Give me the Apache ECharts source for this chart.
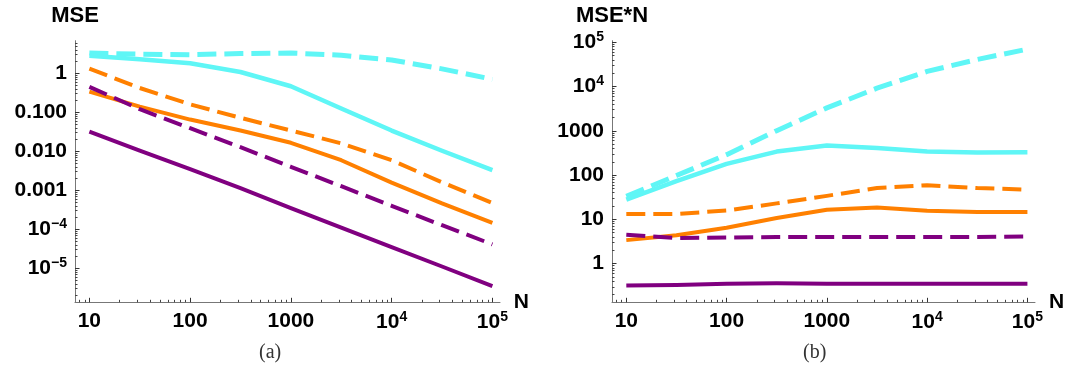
<!DOCTYPE html>
<html><head><meta charset="utf-8">
<script src="https://cdn.jsdelivr.net/npm/echarts@6/dist/echarts.min.js"></script>
<style>html,body{margin:0;padding:0;background:#fff}#c{width:1086px;height:374px}</style>
</head><body><div id="c"></div>
<script>
// ---------- data ----------
const N = [10, 31.6, 100, 316, 1000, 3162, 10000, 31623, 100000];
// panel (a): MSE
const mseCyanSolid    = [2.8, 2.3, 1.8, 1.08, 0.465, 0.125, 0.034, 0.0103, 0.0033];
const mseCyanDashed   = [3.3, 3.1, 3.0, 3.2, 3.3, 2.9, 2.2, 1.3, 0.7];
const mseOrangeSolid  = [0.34, 0.14, 0.065, 0.034, 0.0165, 0.0059, 0.00157, 0.00046, 0.000146];
const mseOrangeDashed = [1.32, 0.42, 0.16, 0.072, 0.034, 0.016, 0.0059, 0.0016, 0.00047];
const msePurpleSolid  = [0.032, 0.0104, 0.0035, 0.00114, 0.00035, 0.00011, 0.000035, 0.0000111, 0.0000035];
const msePurpleDashed = [0.45, 0.12, 0.039, 0.0127, 0.004, 0.00127, 0.0004, 0.000127, 0.000041];
// panel (b): MSE*N
const mseNCyanSolid    = [28, 73, 180, 340, 465, 410, 340, 325, 330];
const mseNCyanDashed   = [33, 98, 290, 1010, 3300, 9200, 22000, 41000, 70000];
const mseNOrangeSolid  = [3.4, 4.4, 6.5, 10.7, 16.5, 18.6, 15.7, 14.6, 14.6];
const mseNOrangeDashed = [13.2, 13.3, 15.8, 23, 34, 51, 59, 51, 47];
const mseNPurpleSolid  = [0.32, 0.33, 0.35, 0.36, 0.35, 0.35, 0.35, 0.35, 0.35];
const mseNPurpleDashed = [4.5, 3.8, 3.9, 4.0, 4.0, 4.0, 4.0, 4.0, 4.1];
// ticks
const xTickValues  = [10, 100, 1000, 10000, 100000];
const xTickLabels  = ['10', '100', '1000', '10^4', '10^5'];
const yTickValuesA = [1e-5, 1e-4, 1e-3, 1e-2, 0.1, 1];
const yTickLabelsA = ['10^\u22125', '10^\u22124', '0.001', '0.010', '0.100', '1'];
const yTickValuesB = [1, 10, 100, 1000, 10000, 100000];
const yTickLabelsB = ['1', '10', '100', '1000', '10^4', '10^5'];
const titleA = 'MSE', titleB = 'MSE*N', xName = 'N';
const captionA = '(a)', captionB = '(b)';

// ---------- styles ----------
const FONT = '"Liberation Sans", Arial, Helvetica, sans-serif';
const CYAN = '#5ff6f6', ORANGE = '#ff8000', PURPLE = '#800080';
const DASH = [19, 8];
const X_MIN = 7.2, X_MAX = 119000;
const YA_MIN = 1.34e-6, YA_MAX = 6.85;
const YB_MIN = 0.134, YB_MAX = 108700;

function minorTicks(min, max) {
  const out = [];
  for (let e = Math.floor(Math.log10(min)); e <= Math.ceil(Math.log10(max)); e++) {
    for (let m = 2; m <= 9; m++) {
      const v = m * Math.pow(10, e);
      if (v >= min && v <= max) out.push(v);
    }
  }
  return out;
}
function fmt(values, labels) {
  return function (v) {
    let idx = values.findIndex(t => Math.abs(Math.log10(t) - Math.log10(v)) < 1e-6);
    if (idx < 0) return '';
    const s = labels[idx];
    const p = s.indexOf('^');
    if (p < 0) return '{n|' + s + '}';
    return '{n|' + s.slice(0, p) + '}{s|' + s.slice(p + 1) + '}';
  };
}
const rich = {
  n: { fontSize: 21, fontWeight: 'bold', fontFamily: FONT, color: '#000' },
  s: { fontSize: 14, fontWeight: 'bold', fontFamily: FONT, color: '#000', padding: [0, 0, 10, 0] }
};
const axisLine = { show: true, lineStyle: { color: '#777', width: 1 } };

function majorAxis(gridIndex, min, max, values, labels, dim, name) {
  return {
    type: 'log', logBase: 10, gridIndex, min, max,
    position: dim === 'x' ? 'bottom' : 'left',
    axisLine,
    axisTick: { show: true, inside: true, length: 4.5, customValues: values, lineStyle: { color: '#333', width: 1 } },
    axisLabel: { show: true, customValues: values, formatter: fmt(values, labels), rich, margin: dim === 'x' ? 8 : 8 },
    minorTick: { show: false },
    splitLine: { show: false },
    name,
    nameLocation: 'end',
    nameGap: dim === 'x' ? 12 : 14,
    nameTextStyle: dim === 'x'
      ? { fontSize: 21, fontWeight: 'bold', fontFamily: FONT, color: '#000', align: 'left', verticalAlign: 'middle' }
      : { fontSize: 22, fontWeight: 'bold', fontFamily: FONT, color: '#000', align: 'center', verticalAlign: 'bottom' }
  };
}
function minorAxis(gridIndex, min, max, dim) {
  return {
    type: 'log', logBase: 10, gridIndex, min, max,
    position: dim === 'x' ? 'bottom' : 'left',
    axisLine: { show: false },
    axisTick: { show: true, inside: true, length: 2.5, customValues: minorTicks(min, max), lineStyle: { color: '#444', width: 1 } },
    axisLabel: { show: false },
    splitLine: { show: false }
  };
}
function line(name, xi, yi, ys, color, dashed, width) {
  return {
    name, type: 'line', xAxisIndex: xi, yAxisIndex: yi,
    data: N.map((n, i) => [n, ys[i]]),
    showSymbol: false, symbol: 'none', smooth: false,
    lineStyle: { color, width, type: dashed ? DASH : 'solid', cap: 'butt', join: 'round' },
    emphasis: { disabled: true }, silent: true, animation: false
  };
}

const option = {
  animation: false,
  backgroundColor: '#fff',
  grid: [
    { left: 75, top: 40.7, width: 425, height: 261.6 },
    { left: 612, top: 40.7, width: 423, height: 261.6 }
  ],
  xAxis: [
    majorAxis(0, X_MIN, X_MAX, xTickValues, xTickLabels, 'x', xName),
    majorAxis(1, X_MIN, X_MAX, xTickValues, xTickLabels, 'x', xName),
    minorAxis(0, X_MIN, X_MAX, 'x'),
    minorAxis(1, X_MIN, X_MAX, 'x')
  ],
  yAxis: [
    majorAxis(0, YA_MIN, YA_MAX, yTickValuesA, yTickLabelsA, 'y', titleA),
    majorAxis(1, YB_MIN, YB_MAX, yTickValuesB, yTickLabelsB, 'y', titleB),
    minorAxis(0, YA_MIN, YA_MAX, 'y'),
    minorAxis(1, YB_MIN, YB_MAX, 'y')
  ],
  series: [
    line('a-cyan-dashed', 0, 0, mseCyanDashed, CYAN, true, 5),
    line('a-cyan-solid', 0, 0, mseCyanSolid, CYAN, false, 4.5),
    line('a-orange-dashed', 0, 0, mseOrangeDashed, ORANGE, true, 4),
    line('a-orange-solid', 0, 0, mseOrangeSolid, ORANGE, false, 4),
    line('a-purple-dashed', 0, 0, msePurpleDashed, PURPLE, true, 4),
    line('a-purple-solid', 0, 0, msePurpleSolid, PURPLE, false, 4),
    line('b-cyan-dashed', 1, 1, mseNCyanDashed, CYAN, true, 5),
    line('b-cyan-solid', 1, 1, mseNCyanSolid, CYAN, false, 4.5),
    line('b-orange-dashed', 1, 1, mseNOrangeDashed, ORANGE, true, 4),
    line('b-orange-solid', 1, 1, mseNOrangeSolid, ORANGE, false, 4),
    line('b-purple-dashed', 1, 1, mseNPurpleDashed, PURPLE, true, 4),
    line('b-purple-solid', 1, 1, mseNPurpleSolid, PURPLE, false, 4)
  ],
  graphic: [
    { type: 'text', left: 259, top: 343, style: { text: captionA, font: '20px "Liberation Serif", "DejaVu Serif", serif', fill: '#333', textAlign: 'center' } },
    { type: 'text', left: 803, top: 343, style: { text: captionB, font: '20px "Liberation Serif", "DejaVu Serif", serif', fill: '#333', textAlign: 'center' } }
  ]
};
const chart = echarts.init(document.getElementById('c'));
chart.setOption(option);
</script>
</body></html>
